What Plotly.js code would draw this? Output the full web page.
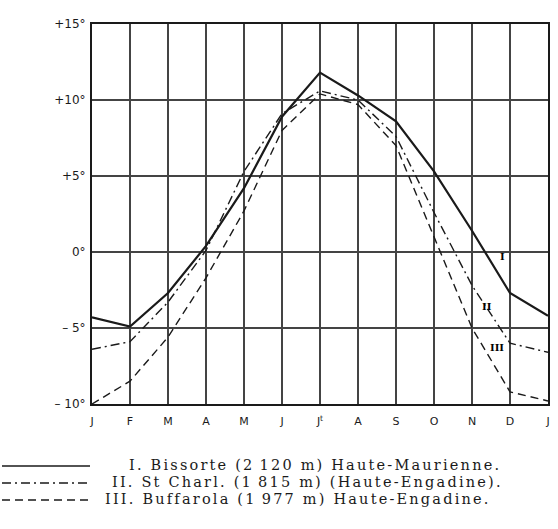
<!DOCTYPE html>
<html>
<head>
<meta charset="utf-8">
<script src="https://cdn.plot.ly/plotly-3.0.1.min.js"></script>
<style>html,body{margin:0;padding:0;background:#fff;}</style>
</head>
<body>
<div id="chart" style="width:558px;height:529px;"></div>
<script>
// Month positions (0..12) and hand-lettered labels
const monthPos = [0, 1, 2, 3, 4, 5, 6, 7, 8, 9, 10, 11, 12];
const monthLabels = ['J', 'F', 'M', 'A', 'M', 'J', 'J<sup>t</sup>', 'A', 'S', 'O', 'N', 'D', 'J'];

// Mean monthly temperatures (°C)
const bissorte  = [-4.3, -4.9, -2.7, 0.4, 4.2, 8.9, 11.8, 10.3, 8.6, 5.3, 1.4, -2.7, -4.2];
const stCharl   = [-6.4, -5.9, -3.3, 0.1, 5.3, 9.1, 10.6, 10.0, 7.6, 2.6, -2.2, -6.0, -6.6];
const buffarola = [-10.0, -8.5, -5.6, -1.7, 2.7, 8.0, 10.4, 9.7, 7.0, 1.0, -5.0, -9.2, -9.8];

// Y ticks
const yTickVals = [-10, -5, 0, 5, 10, 15];
const yTickText = ['– 10°', '– 5°', '0°', '+5°', '+10°', '+15°'];

// Legend texts
const legendTexts = [
  'I. Bissorte (2\u202F120 m) Haute-Maurienne.',
  'II. St Charl. (1\u202F815 m) (Haute-Engadine).',
  'III. Buffarola (1\u202F977 m) Haute-Engadine.'
];

const ink = '#1a1a1a';

const traces = [
  {x: monthPos, y: bissorte, mode: 'lines', line: {color: ink, width: 2.2}, hoverinfo: 'skip'},
  {x: monthPos, y: stCharl, mode: 'lines', line: {color: ink, width: 1.4, dash: '9px,4px,2px,4px'}, hoverinfo: 'skip'},
  {x: monthPos, y: buffarola, mode: 'lines', line: {color: ink, width: 1.4, dash: '8px,5px'}, hoverinfo: 'skip'}
];

// paper coords helper for the legend region under the plot
const L = 92, R = 548, T = 24, B = 404;
const px = v => (v - L) / (R - L);
const py = v => (B - v) / (B - T);

const legendRows = [466, 483, 500];
const legendStarts = [127, 110, 103];
const legendDash = ['solid', '9px,4px,2px,4px', '8px,5px'];

const shapes = legendRows.map((r, i) => ({
  type: 'line', xref: 'paper', yref: 'paper',
  x0: px(2), x1: px(90), y0: py(r), y1: py(r),
  line: {color: ink, width: i === 0 ? 1.6 : 1.4, dash: legendDash[i]}
}));

const annotations = legendRows.map((r, i) => ({
  xref: 'paper', yref: 'paper', x: px(legendStarts[i]), y: py(r - 1),
  xanchor: 'left', yanchor: 'middle', showarrow: false,
  text: '<span style="letter-spacing:2.2px">' + legendTexts[i] + '</span>',
  font: {family: 'DejaVu Serif', size: 14.5, color: ink}
}));

const curveLabelFont = {family: 'DejaVu Serif', size: 10, color: '#000', weight: 'bold'};

const layout = {
  width: 558, height: 529,
  margin: {l: 92, r: 10, t: 24, b: 125},
  paper_bgcolor: '#fff', plot_bgcolor: '#fff',
  showlegend: false,
  xaxis: {
    range: [0, 12], tickvals: monthPos, ticktext: monthLabels,
    showgrid: true, gridcolor: '#444', gridwidth: 2,
    zeroline: false, showline: true, linecolor: ink, linewidth: 2, mirror: true,
    ticks: '', ticklabelstandoff: 6,
    tickfont: {family: 'DejaVu Sans', size: 11, color: ink}, fixedrange: true
  },
  yaxis: {
    range: [-10, 15], tickvals: yTickVals, ticktext: yTickText,
    showgrid: true, gridcolor: '#444', gridwidth: 2,
    zeroline: false, showline: true, linecolor: ink, linewidth: 2, mirror: true,
    ticks: '', ticklabelstandoff: 2,
    tickfont: {family: 'DejaVu Sans', size: 12, color: ink}, fixedrange: true
  },
  shapes: shapes,
  annotations: annotations.concat([
    {x: 10.8, y: -0.3, xref: 'x', yref: 'y', text: 'I', showarrow: false, font: curveLabelFont},
    {x: 10.4, y: -3.6, xref: 'x', yref: 'y', text: 'II', showarrow: false, font: curveLabelFont},
    {x: 10.65, y: -6.3, xref: 'x', yref: 'y', text: 'III', showarrow: false, font: curveLabelFont}
  ])
};

Plotly.newPlot('chart', traces, layout, {staticPlot: true, displayModeBar: false});
</script>
</body>
</html>
